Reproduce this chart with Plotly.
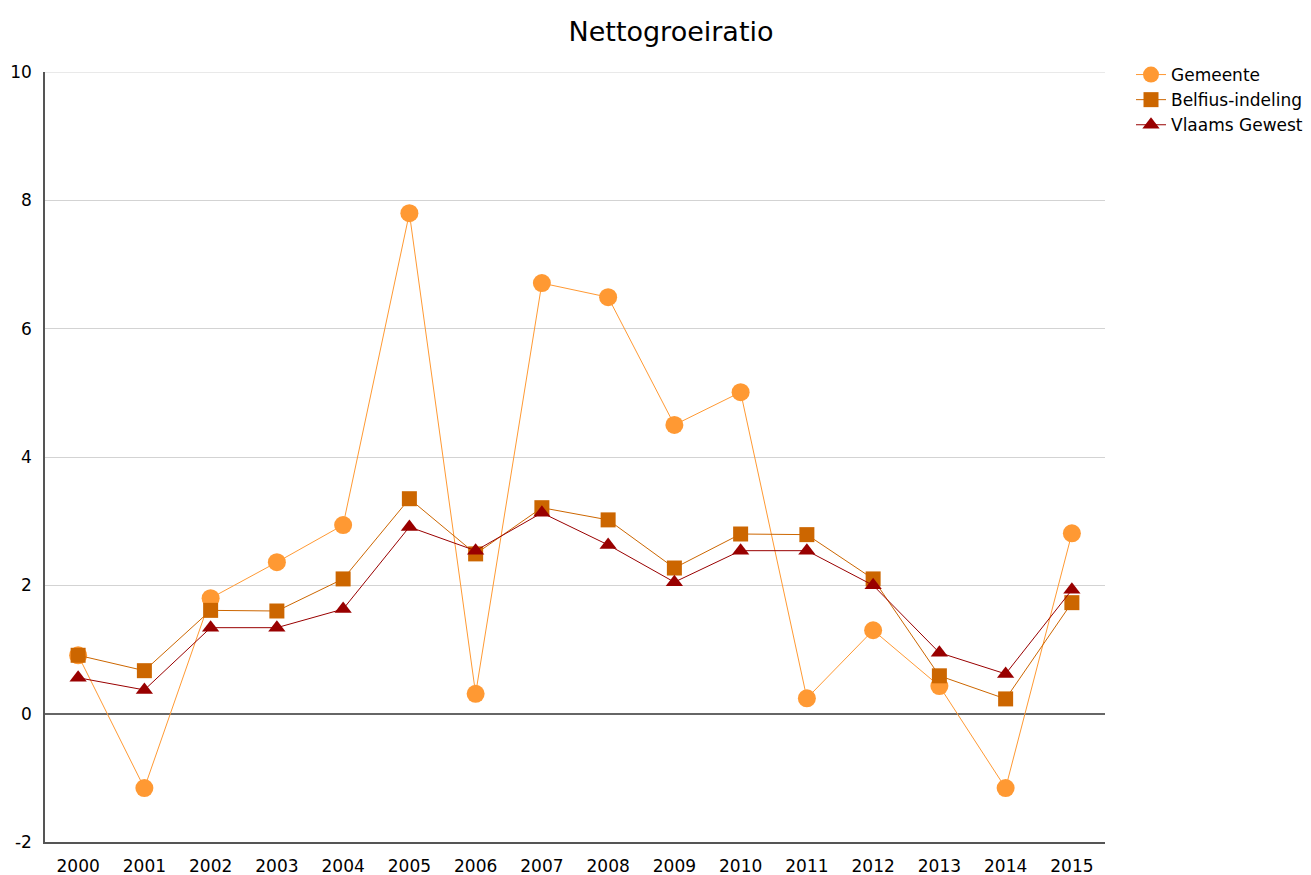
import plotly.graph_objects as go

years = [str(y) for y in range(2000, 2016)]

gemeente = [0.91, -1.16, 1.80, 2.36, 2.94, 7.80, 0.31, 6.71, 6.49, 4.50, 5.01, 0.24, 1.30, 0.43, -1.16, 2.81]
belfius = [0.91, 0.67, 1.61, 1.60, 2.10, 3.35, 2.49, 3.21, 3.02, 2.27, 2.80, 2.79, 2.10, 0.59, 0.23, 1.73]
vlaams = [0.56, 0.37, 1.34, 1.34, 1.63, 2.91, 2.54, 3.13, 2.63, 2.05, 2.54, 2.54, 2.00, 0.95, 0.62, 1.93]

y_ticks = [-2, 0, 2, 4, 6, 8, 10]

FONT = "DejaVu Sans, Verdana, sans-serif"

fig = go.Figure()
fig.add_trace(go.Scatter(
    x=years, y=gemeente, name="Gemeente", mode="lines+markers",
    line=dict(color="#FF9933", width=1),
    marker=dict(symbol="circle", size=18, color="#FF9933"),
))
fig.add_trace(go.Scatter(
    x=years, y=belfius, name="Belfius-indeling", mode="lines+markers",
    line=dict(color="#CC6600", width=1),
    marker=dict(symbol="square", size=15, color="#CC6600"),
))
fig.add_trace(go.Scatter(
    x=years, y=vlaams, name="Vlaams Gewest", mode="lines+markers",
    line=dict(color="#990000", width=1),
    marker=dict(symbol="triangle-up", size=15, color="#990000"),
))

# light gridline along the top value of the axis
fig.add_shape(type="line", xref="paper", yref="y", x0=0, x1=1, y0=10, y1=10,
              line=dict(color="#D3D3D3", width=1), layer="below")

fig.update_layout(
    width=1311, height=875,
    paper_bgcolor="white", plot_bgcolor="white",
    margin=dict(l=45, r=206, t=72, b=33, autoexpand=False),
    font=dict(family=FONT, size=17, color="#000000"),
    title=dict(text="Nettogroeiratio", x=671 / 1311, xref="container", xanchor="center",
               y=0.964, yanchor="middle", font=dict(family=FONT, size=27, color="#000000")),
    showlegend=True,
    legend=dict(xref="container", yref="container", x=1131 / 1311, y=1 - 57 / 875,
                xanchor="left", yanchor="top",
                font=dict(family=FONT, size=17), itemsizing="trace",
                tracegroupgap=0, bgcolor="rgba(0,0,0,0)"),
    xaxis=dict(
        type="category", range=[-0.5, 15.5],
        showgrid=False, showline=True, linecolor="#555555", linewidth=1.5,
        ticks="", tickfont=dict(family=FONT, size=17),
        zeroline=False, ticklabelstandoff=8, automargin=False,
    ),
    yaxis=dict(
        range=[-2, 10], tickvals=y_ticks, ticktext=[str(v) for v in y_ticks],
        showgrid=True, gridcolor="#D3D3D3", gridwidth=1,
        showline=True, linecolor="#555555", linewidth=1.5,
        zeroline=True, zerolinecolor="#666666", zerolinewidth=1.5,
        ticks="", tickfont=dict(family=FONT, size=17),
        ticklabelstandoff=8, automargin=False,
    ),
)

fig.write_html("out.html")
